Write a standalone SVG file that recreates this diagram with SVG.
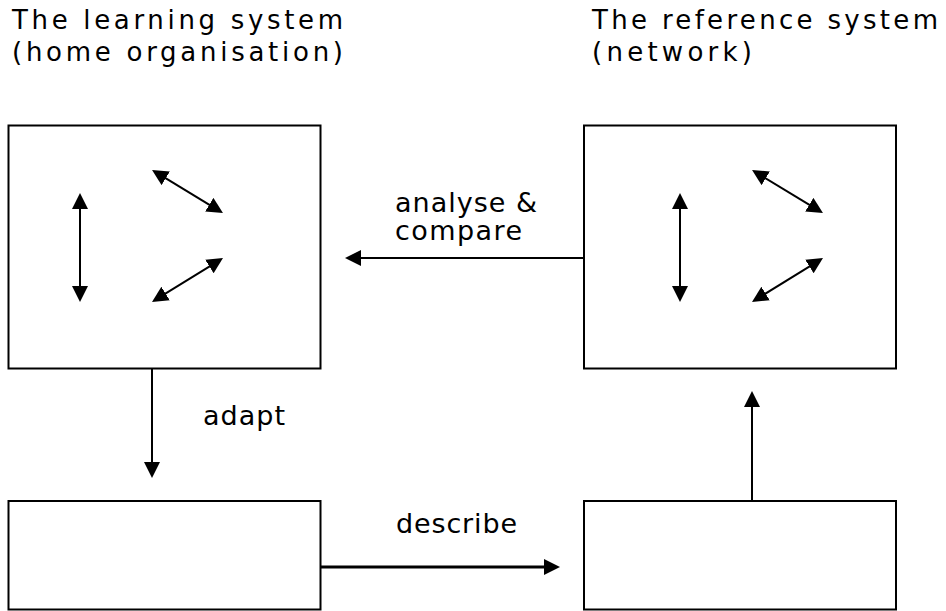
<svg xmlns="http://www.w3.org/2000/svg" width="946" height="611" viewBox="0 0 946 611">
  <style>
    .box { fill: #ffffff; stroke: #000000; stroke-width: 2; }
    .conn { stroke: #000000; stroke-width: 2; fill: none; }
    .txt { font-family: "DejaVu Sans", Verdana, sans-serif; font-size: 26px; fill: #000000; }
    .lbl { font-family: "DejaVu Sans", Verdana, sans-serif; font-size: 27px; fill: #000000; }
  </style>
  <defs>
    <marker id="ah" markerUnits="userSpaceOnUse" markerWidth="16" markerHeight="16" viewBox="0 0 16 16" refX="6" refY="8" orient="auto-start-reverse">
      <path d="M0,0 L16,8 L0,16 z" fill="#000000"/>
    </marker>
  </defs>
  <rect width="946" height="611" fill="#ffffff"/>

  <g id="title-left">
    <text class="txt" x="12" y="29" textLength="331" lengthAdjust="spacing">The learning system</text>
    <text class="txt" x="12" y="61" textLength="331" lengthAdjust="spacing">(home organisation)</text>
  </g>
  <g id="title-right">
    <text class="txt" x="592" y="29" textLength="346" lengthAdjust="spacing">The reference system</text>
    <text class="txt" x="592" y="61" textLength="160" lengthAdjust="spacing">(network)</text>
  </g>

  <g id="learning-system">
    <rect class="box" x="8.5" y="125.5" width="312" height="243"/>
    <line class="conn" x1="80" y1="203" x2="80" y2="292" marker-start="url(#ah)" marker-end="url(#ah)"/>
    <line class="conn" x1="160.6" y1="175.2" x2="214.4" y2="207.8" marker-start="url(#ah)" marker-end="url(#ah)"/>
    <line class="conn" x1="214.5" y1="263.3" x2="160.5" y2="296.7" marker-start="url(#ah)" marker-end="url(#ah)"/>
  </g>

  <g id="reference-system">
    <rect class="box" x="584" y="125.5" width="312" height="243"/>
    <line class="conn" x1="680" y1="203" x2="680" y2="292" marker-start="url(#ah)" marker-end="url(#ah)"/>
    <line class="conn" x1="760.6" y1="175.2" x2="814.4" y2="207.8" marker-start="url(#ah)" marker-end="url(#ah)"/>
    <line class="conn" x1="814.5" y1="263.3" x2="760.5" y2="296.7" marker-start="url(#ah)" marker-end="url(#ah)"/>
  </g>

  <g id="adapted-system">
    <rect class="box" x="8.5" y="501" width="312" height="108.5"/>
  </g>

  <g id="description">
    <rect class="box" x="584" y="501" width="312" height="108.5"/>
  </g>

  <g id="connectors">
    <line class="conn" x1="584" y1="258" x2="355" y2="258" marker-end="url(#ah)"/>
    <line class="conn" x1="152" y1="369" x2="152" y2="468" marker-end="url(#ah)"/>
    <line class="conn" x1="321" y1="567" x2="550" y2="567" marker-end="url(#ah)" style="stroke-width:3"/>
    <line class="conn" x1="752" y1="501" x2="752" y2="401" marker-end="url(#ah)"/>
  </g>

  <g id="labels">
    <text class="lbl" x="395" y="212" textLength="142" lengthAdjust="spacing">analyse &amp;</text>
    <text class="lbl" x="395" y="240" textLength="127" lengthAdjust="spacing">compare</text>
    <text class="lbl" x="203" y="425" textLength="82" lengthAdjust="spacing">adapt</text>
    <text class="lbl" x="396" y="533" textLength="121" lengthAdjust="spacing">describe</text>
  </g>
</svg>
